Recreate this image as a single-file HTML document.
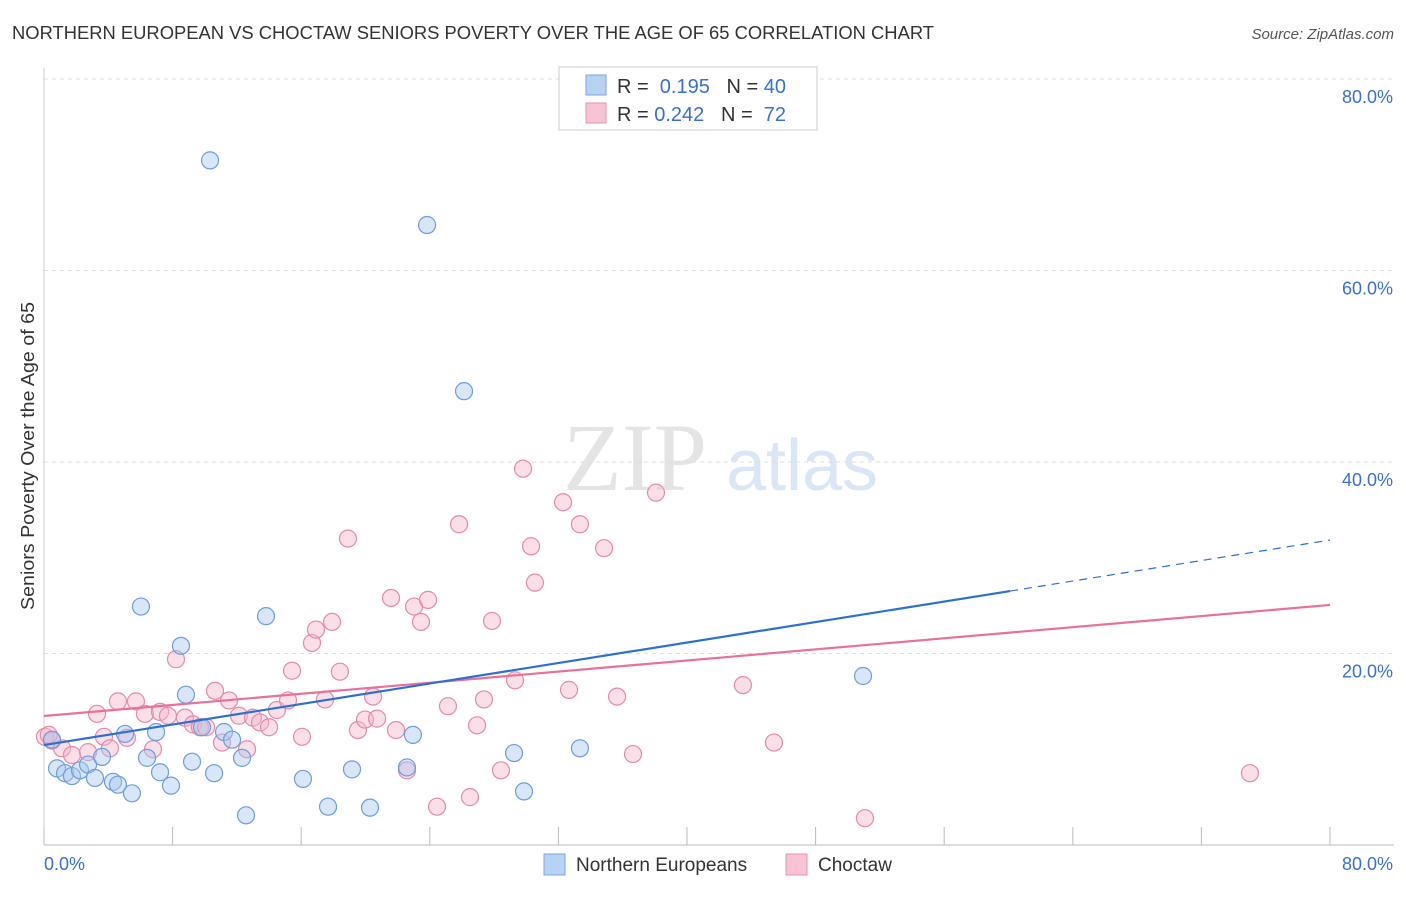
<!DOCTYPE html>
<html><head><meta charset="utf-8"><style>
body{margin:0;background:#fff;font-family:"Liberation Sans",sans-serif;}
</style></head><body>
<svg id="c" width="1406" height="892" xmlns="http://www.w3.org/2000/svg" font-family="Liberation Sans, sans-serif">
<text x="12" y="39" font-size="18" fill="#333" textLength="922" lengthAdjust="spacingAndGlyphs">NORTHERN EUROPEAN VS CHOCTAW SENIORS POVERTY OVER THE AGE OF 65 CORRELATION CHART</text>
<text x="1394" y="39" font-size="15" fill="#555" text-anchor="end" font-style="italic">Source: ZipAtlas.com</text>
<g>
<text x="635" y="490" font-size="96" fill="#e4e4e4" font-family="Liberation Serif, serif" text-anchor="middle">ZIP</text>
<text x="802" y="490" font-size="72" fill="#dbe6f5" text-anchor="middle">atlas</text>
</g>
<g id="grid"></g>
<g id="axes"></g>
<g id="marks"></g>
<text transform="translate(34,456) rotate(-90)" font-size="18" fill="#333" text-anchor="middle" textLength="308" lengthAdjust="spacingAndGlyphs">Seniors Poverty Over the Age of 65</text>
<g>
<rect x="559" y="67" width="258" height="63" fill="#fff" stroke="#ccc"/>
<rect x="586" y="75" width="20" height="20" fill="#b8d2f4" stroke="#7aa6e0"/>
<rect x="586" y="103" width="20" height="20" fill="#f8c4d4" stroke="#e890b0"/>
<text x="617" y="93" font-size="20" fill="#333">R = <tspan fill="#3a70d0">&#160;0.195</tspan>&#160;&#160;&#160;N = <tspan fill="#3a70d0">40</tspan></text>
<text x="617" y="121" font-size="20" fill="#333">R = <tspan fill="#3a70d0">0.242</tspan>&#160;&#160;&#160;N = <tspan fill="#3a70d0">&#160;72</tspan></text>
</g>
<g>
<rect x="544" y="854" width="21" height="21" fill="#b8d2f4" stroke="#7aa6e0"/>
<text x="576" y="871" font-size="19" fill="#333">Northern Europeans</text>
<rect x="786" y="854" width="21" height="21" fill="#f8c4d4" stroke="#e890b0"/>
<text x="818" y="871" font-size="19" fill="#333">Choctaw</text>
</g>
</svg>
<script>
const yTicks=[20,40,60,80];
const yTickLabels=["20.0%","40.0%","60.0%","80.0%"];
const blueX=[10.33,23.83,26.13,6.03,13.81,8.52,50.95,8.83,5.04,6.97,11.2,9.83,11.7,22.95,29.24,33.34,0.5,0.81,1.31,1.74,2.24,2.74,3.17,3.61,4.29,4.6,5.47,6.41,7.22,7.9,9.21,10.58,12.32,12.57,16.11,17.67,19.16,20.28,22.58,29.86];
const blueY=[71.5,64.75,47.4,24.9,23.9,20.8,17.65,15.7,11.6,11.8,11.8,12.3,11.0,11.5,9.6,10.1,11.0,8.0,7.5,7.2,7.8,8.4,7.0,9.2,6.6,6.3,5.4,9.1,7.6,6.2,8.7,7.5,9.1,3.1,6.9,4.0,7.9,3.9,8.1,5.6];
const pinkX=[0.06,0.5,1.12,1.74,2.74,3.3,3.73,4.1,4.6,5.16,5.72,6.28,6.78,7.22,7.71,8.21,8.77,9.27,9.7,10.08,10.64,11.07,11.51,12.13,12.63,13.0,13.44,14.0,14.49,15.18,15.43,16.05,16.67,16.92,17.48,17.92,18.41,18.91,19.53,19.97,20.47,20.72,21.59,21.9,22.58,23.02,23.45,23.89,24.45,25.13,25.82,26.5,26.94,27.37,27.87,28.43,29.3,29.8,30.3,30.54,32.29,32.66,33.34,34.84,35.65,36.64,38.07,43.48,45.41,51.07,75.02,0.3];
const pinkY=[11.3,10.9,10.1,9.4,9.7,13.7,11.3,10.1,15.0,11.2,15.0,13.7,10.0,13.9,13.5,19.4,13.3,12.6,12.3,12.3,16.1,10.7,15.1,13.5,10.0,13.3,12.8,12.3,14.1,15.1,18.2,11.3,21.1,22.5,15.2,23.3,18.1,32.0,12.0,13.1,15.5,13.2,25.8,12.0,7.8,24.9,23.3,25.6,4.0,14.5,33.5,5.0,12.5,15.2,23.4,7.8,17.2,39.3,31.2,27.4,35.8,16.2,33.5,31.0,15.5,9.5,36.8,16.7,10.7,2.8,7.5,11.5];
const blueTrend=[10.44,31.85];
const blueSolidEnd=60.1;
const pinkTrend=[13.47,25.07];
const X=v=>44+v*16.075, Y=v=>845-v*9.575;
const NS="http://www.w3.org/2000/svg";
function mk(p,t,a){const e=document.createElementNS(NS,t);for(const k in a)e.setAttribute(k,a[k]);p.appendChild(e);return e;}
const grid=document.getElementById('grid'),axes=document.getElementById('axes'),marks=document.getElementById('marks');
yTicks.forEach((t,i)=>{
 const l=mk(grid,'line',{x1:44,x2:1394,y1:Y(t),y2:Y(t),stroke:'#ddd','stroke-dasharray':'4,4'});
 
 
 const tx=mk(grid,'text',{x:1393,y:Y(t)+24,'font-size':18,fill:'#3a70d0','text-anchor':'end'});
 tx.textContent=yTickLabels[i];
 
 
});
let a=mk(axes,'line',{x1:44,x2:44,y1:68,y2:845,stroke:'#ccc'});


a=mk(axes,'line',{x1:44,x2:1394,y1:845,y2:845,stroke:'#bbb'});


for(let i=0;i<=10;i++){const t=mk(axes,'line',{x1:X(i*8),x2:X(i*8),y1:827,y2:845,stroke:'#bbb'});
 
 }
let xl=mk(axes,'text',{x:44,y:870,'font-size':18,fill:'#3a70d0'});xl.textContent='0.0%';


xl=mk(axes,'text',{x:1393,y:870,'font-size':18,fill:'#3a70d0','text-anchor':'end'});xl.textContent='80.0%';


function dots(xs,ys,fill,stroke,name){xs.forEach((x,i)=>{
 const c=mk(marks,'circle',{cx:X(x),cy:Y(ys[i]),r:8.5,fill:fill,'fill-opacity':0.45,stroke:stroke,'stroke-width':1.2});
 
 });}
dots(pinkX,pinkY,'#f5b8cb','#e68aaa','choctaw-point');
dots(blueX,blueY,'#a8c8f0','#6f9cdc','northern-european-point');
const ty=(tr,x)=>tr[0]+(tr[1]-tr[0])*x/80;
let ln=mk(marks,'line',{x1:X(0),y1:Y(ty(pinkTrend,0)),x2:X(80),y2:Y(ty(pinkTrend,80)),stroke:'#e8709a','stroke-width':2.2});


ln=mk(marks,'line',{x1:X(0),y1:Y(ty(blueTrend,0)),x2:X(blueSolidEnd),y2:Y(ty(blueTrend,blueSolidEnd)),stroke:'#2f6fd0','stroke-width':2.2});


ln=mk(marks,'line',{x1:X(blueSolidEnd),y1:Y(ty(blueTrend,blueSolidEnd)),x2:X(80),y2:Y(ty(blueTrend,80)),stroke:'#2f6fd0','stroke-width':1.2,'stroke-dasharray':'8,6'});


</script>
</body></html>
